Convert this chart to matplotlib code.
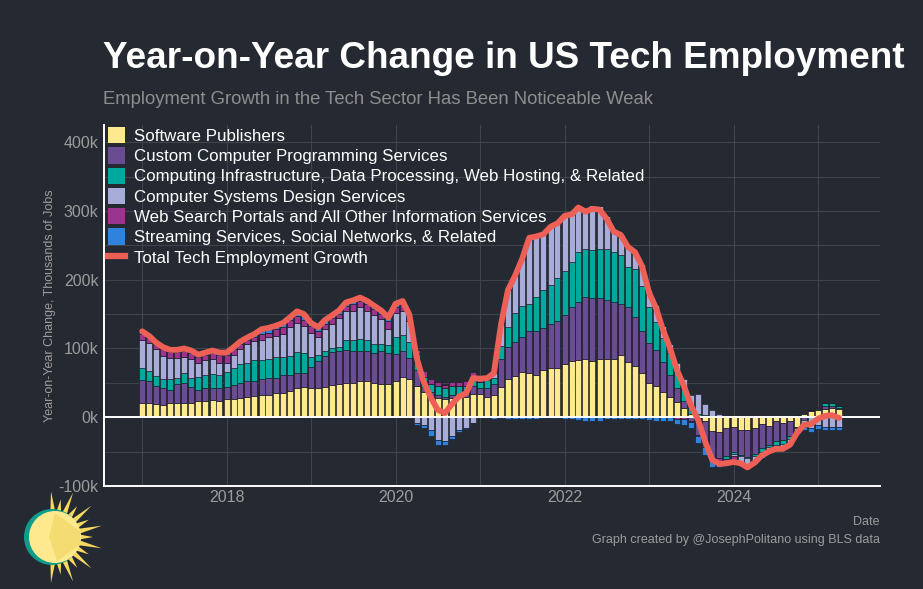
import matplotlib

matplotlib.use("Agg")
import matplotlib.pyplot as plt  # noqa: E402
import matplotlib.patches as mpatches  # noqa: E402
from matplotlib.lines import Line2D  # noqa: E402
import numpy as np  # noqa: E402
import pandas as pd  # noqa: E402

plt.rcParams["font.family"] = ["Liberation Sans", "DejaVu Sans"]

BG = "#252A32"
GRID = "#3E434C"
TEXT_GREY = "#9C9C9C"

# monthly year-on-year change, thousands of jobs, Jan 2017 -> Apr 2025
dates = pd.date_range("2017-01-01", periods=100, freq="MS")

software = [
    21, 21, 19, 18, 20, 20, 20, 20, 23, 24, 25, 23,
    26, 27, 28, 30, 31, 32, 33, 35, 35, 38, 43, 44,
    43, 42, 44, 47, 49, 50, 50, 52, 52, 50, 49, 49,
    52, 58, 56, 46, 36, 28, 28, 27, 28, 29, 30, 34,
    34, 30, 32, 44, 55, 60, 66, 65, 62, 68, 71, 72,
    78, 82, 83, 85, 82, 85, 85, 85, 90, 80, 75, 65,
    50, 45, 37, 30, 22, 14, 5, 0, -5, -20, -22, -16,
    -14, -18, -18, -16, -10, -13, -5, -8, -5, -14, 4, 9,
    10, 12, 14, 12,
]
programming = [
    33, 32, 26, 25, 20, 28, 30, 24, 17, 19, 18, 19,
    18, 20, 22, 23, 22, 23, 24, 22, 26, 24, 22, 21,
    30, 40, 45, 48, 48, 48, 46, 45, 44, 44, 47, 45,
    40, 39, 30, 22, 8, 8, 5, 2, 4, 4, 5, 12,
    9, 12, 16, 40, 47, 49, 50, 61, 63, 62, 64, 68,
    71, 79, 85, 90, 91, 89, 85, 83, 75, 80, 71, 61,
    58, 53, 43, 31, 20, 10, -6, -26, -35, -40, -38, -40,
    -37, -37, -40, -38, -35, -27, -30, -25, -22, -2, -4, 2,
    2, 4, 3, 2,
]
infrastructure = [
    17, 14, 15, 12, 16, 9, 15, 13, 18, 18, 20, 20,
    22, 25, 27, 26, 30, 28, 27, 30, 27, 27, 30, 29,
    15, 9, 7, 5, 5, 15, 17, 17, 17, 13, 10, 11,
    25, 23, 24, 24, 14, 12, 12, 13, 13, 12, 11, 10,
    8, 12, 9, 19, 29, 42, 46, 38, 50, 55, 58, 62,
    63, 65, 73, 70, 70, 71, 75, 73, 71, 59, 70, 65,
    52, 40, 35, 32, 25, 20, 10, 4, 3, 2, 2, -5,
    -3, -2, -2, -3, -5, -4, -6, -6, -5, 3, 2, 0,
    1, 4, 4, 3,
]
systems_design = [
    41, 41, 39, 34, 30, 29, 23, 27, 21, 22, 21, 17,
    13, 19, 22, 27, 28, 30, 32, 31, 33, 42, 42, 39,
    35, 25, 33, 36, 42, 42, 41, 46, 41, 42, 37, 24,
    34, 35, 30, -9, -12, -19, -33, -34, -27, -18, -15, -8,
    0, 2, 8, 32, 54, 55, 68, 97, 88, 80, 84, 80,
    83, 71, 68, 59, 66, 62, 47, 31, 31, 29, 25, 32,
    25, 25, 18, 14, 12, 12, 18, 30, 16, 9, 3, 2,
    -3, -8, -10, -8, -6, -5, -5, -6, -8, -8, -10, -15,
    -12, -14, -14, -14,
]
web_search = [
    9, 7, 7, 10, 9, 9, 9, 10, 9, 8, 10, 12,
    12, 8, 8, 7, 5, 8, 6, 10, 10, 10, 10, 9,
    9, 10, 6, 8, 6, 7, 11, 9, 10, 8, 7, 11,
    9, 9, 5, 6, 9, 8, 6, 5, 6, 6, 6, 10,
    5, 2, 2, 1, 2, 2, 2, 2, 2, 2, 1, 1,
    1, 1, 0, 0, 0, 0, 0, 0, 0, 2, 2, 0,
    0, 0, 0, 0, -2, -2, -1, -2, -3, -3, -4, -3,
    -4, 2, 2, 2, 3, 2, 2, 1, 2, 0, 1, 0,
    2, 0, 0, 0,
]
streaming = [
    4, 3, 3, 3, 3, 3, 3, 3, 3, 3, 3, 3,
    3, 3, 3, 3, 5, 7, 8, 5, 6, 4, 7, 8,
    5, 5, 6, 4, 5, 5, 5, 5, 5, 5, 5, 5,
    5, 5, 4, -2, -3, -8, -7, -7, -5, -3, -2, -1,
    0, -1, -3, -1, -2, -2, -2, -2, -2, -1, -1, -1,
    -3, -3, -4, -5, -6, -5, -3, -2, -2, -2, -3, -3,
    -4, -5, -5, -6, -8, -9, -9, -10, -12, -10, -9, -5,
    -4, -4, -5, -3, -3, -3, -2, -2, -2, -2, -4, -6,
    -5, -4, -4, -4,
]
total = [
    125, 118, 109, 102, 98, 98, 100, 97, 91, 94, 97, 94,
    94, 102, 110, 116, 121, 128, 130, 133, 137, 145, 154, 150,
    137, 131, 141, 148, 155, 167, 170, 174, 169, 162, 155, 145,
    165, 169, 149, 87, 52, 29, 11, 6, 19, 30, 35, 57,
    56, 57, 64, 135, 185, 206, 230, 261, 263, 266, 277, 282,
    293, 295, 305, 299, 303, 302, 289, 270, 265, 248, 240, 220,
    181, 158, 128, 101, 69, 45, 17, -4, -36, -62, -68, -67,
    -65, -67, -73, -66, -56, -50, -46, -46, -40, -23, -11, -10,
    -2, 2, 3, -1,
]

series = [
    ("Software Publishers", software, "#FFE98F"),
    ("Custom Computer Programming Services", programming, "#6A4C93"),
    ("Computing Infrastructure, Data Processing, Web Hosting, & Related", infrastructure, "#00A99D"),
    ("Computer Systems Design Services", systems_design, "#A7ACD9"),
    ("Web Search Portals and All Other Information Services", web_search, "#9A348E"),
    ("Streaming Services, Social Networks, & Related", streaming, "#3083DC"),
]
LINE_COLOR = "#EE6055"

fig = plt.figure(figsize=(9.23, 5.89), dpi=100, facecolor=BG)
ax = fig.add_axes([104 / 923, 103 / 589, 776 / 923, 361 / 589], facecolor=BG)

# stacked bars, positives up and negatives down, like ggplot position_stack
pos_base = np.zeros(len(dates))
neg_base = np.zeros(len(dates))
for label, vals, color in series:
    v = np.array(vals, dtype=float)
    bottom = np.where(v >= 0, pos_base, neg_base)
    ax.bar(dates, v, bottom=bottom, width=26, color=color,
           edgecolor="#15171c", linewidth=0.4, zorder=2)
    pos_base += np.clip(v, 0, None)
    neg_base += np.clip(v, None, 0)

ax.plot(dates, total, color=LINE_COLOR, lw=4.2, solid_joinstyle="round",
        solid_capstyle="round", zorder=4)
ax.axhline(0, color="white", lw=1.4, zorder=3)

ax.set_xlim(pd.Timestamp("2016-07-20"), pd.Timestamp("2025-09-25"))
ax.set_ylim(-100, 425)
ax.set_yticks([-100, 0, 100, 200, 300, 400])
ax.set_yticklabels(["-100k", "0k", "100k", "200k", "300k", "400k"])
ax.set_yticks(np.arange(-50, 425, 100), minor=True)
ax.set_xticks([pd.Timestamp(f"{y}-01-01") for y in (2018, 2020, 2022, 2024)])
ax.set_xticklabels(["2018", "2020", "2022", "2024"])
ax.set_xticks([pd.Timestamp(f"{y}-01-01") for y in (2017, 2019, 2021, 2023, 2025)], minor=True)
ax.grid(True, which="both", color=GRID, lw=0.8, zorder=0)
ax.tick_params(which="both", length=0)
ax.tick_params(axis="y", colors=TEXT_GREY, labelsize=11.5, pad=4)
ax.tick_params(axis="x", colors=TEXT_GREY, labelsize=11.5, pad=3)
for side in ("top", "right"):
    ax.spines[side].set_visible(False)
for side in ("left", "bottom"):
    ax.spines[side].set_color("white")
    ax.spines[side].set_linewidth(1.4)

ax.set_ylabel("Year-on-Year Change, Thousands of Jobs", color=TEXT_GREY,
              fontsize=9, labelpad=2)
ax.set_xlabel("Date", color=TEXT_GREY, fontsize=9, loc="right", labelpad=8)

handles = [mpatches.Patch(facecolor=c, label=l) for l, _, c in series]
handles.append(Line2D([0], [0], color=LINE_COLOR, lw=4.5, label="Total Tech Employment Growth"))
leg = ax.legend(handles=handles, loc="upper left", bbox_to_anchor=(-0.006, 1.018),
                frameon=False, fontsize=12.2, labelcolor="white", handlelength=1.0,
                handleheight=1.1, handletextpad=0.55, labelspacing=0.2,
                borderaxespad=0.1)
leg.set_zorder(5)

fig.text(103 / 923, 1 - 58 / 589, "Year-on-Year Change in US Tech Employment",
         color="white", fontsize=26.6, fontweight="bold", va="center", ha="left")
fig.text(103 / 923, 1 - 99 / 589,
         "Employment Growth in the Tech Sector Has Been Noticeable Weak",
         color="#8E8E8E", fontsize=13.3, va="center", ha="left")
fig.text(880 / 923, 1 - 540 / 589, "Graph created by @JosephPolitano using BLS data",
         color=TEXT_GREY, fontsize=9, ha="right", va="center")

# sun logo
lax = fig.add_axes([15 / 923, 2 / 589, 95 / 923, 95 / 589])
lax.set_xlim(15, 110)
lax.set_ylim(589 - 2, 589 - 97)
lax.axis("off")
cx, cy, r = 55, 537, 27
for k, ang in enumerate(np.linspace(-95, 95, 15)):
    a = np.radians(ang)
    tip = 48 if k % 2 == 0 else 38
    if k in (0, 14):
        tip = 46
    d = np.radians(6)
    pts = [
        (cx + r * 0.9 * np.cos(a - d), cy + r * 0.9 * np.sin(a - d)),
        (cx + tip * np.cos(a), cy + tip * np.sin(a)),
        (cx + r * 0.9 * np.cos(a + d), cy + r * 0.9 * np.sin(a + d)),
    ]
    lax.add_patch(mpatches.Polygon(pts, closed=True, color="#F6D95E", lw=0))
lax.add_patch(mpatches.Circle((cx - 3, cy), r + 1, color="#0E9C8C", lw=0))
lax.add_patch(mpatches.Circle((cx, cy), r - 1, color="#FFE98F", lw=0))
lax.add_patch(mpatches.Polygon([(cx, cy - r + 3), (cx + r - 2, cy - 6), (cx + r - 2, cy + 8),
                                (cx + 2, cy + r - 3), (cx - 6, cy)], closed=True,
                               color="#F5DC72", lw=0))

fig.savefig("out.png", dpi=100, facecolor=BG)
